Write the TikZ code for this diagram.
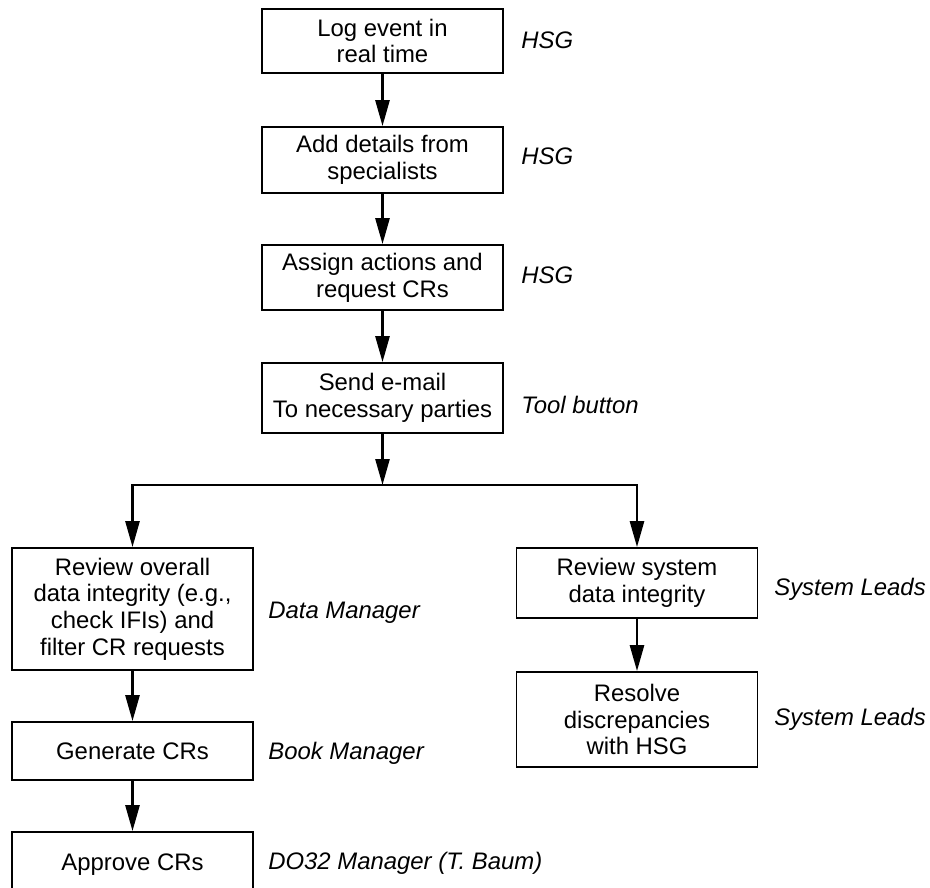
\documentclass[tikz,border=0pt]{standalone}
\usepackage{fontspec}
\setmainfont{Liberation Sans}
\usetikzlibrary{arrows.meta,positioning}
\tikzset{
stepbox/.style={rectangle, draw=black, fill=white, line width=1pt, minimum width=4.82cm, align=center, inner sep=2pt, font=\fontsize{13.6}{15.2}\selectfont},
rolelabel/.style={anchor=west, inner sep=0pt, text height=0.72em, text depth=0pt, font=\fontsize{13.6}{15.2}\selectfont\itshape},
arrow/.style={-{Triangle[length=0.52cm, width=0.28cm]}, line width=1.5pt}
}
\begin{document}
\begin{tikzpicture}[x=0.02cm, y=-0.02cm]
\useasboundingbox (0,0) rectangle (930,888);
% main column
\node[stepbox, minimum height=1.28cm] (log) at (382.5,41) {Log event in\\real time};
\node[stepbox, minimum height=1.32cm] (details) at (382.5,160) {Add details from\\specialists};
\node[stepbox, minimum height=1.30cm] (assign) at (382.5,277.5) {Assign actions and\\request CRs};
\node[stepbox, minimum height=1.40cm] (email) at (382.5,398) {Send e-mail\\To necessary parties};
% left branch
\node[stepbox, minimum height=2.44cm] (review) at (132.5,609) {Review overall\\data integrity (e.g.,\\check IFIs) and\\filter CR requests};
\node[stepbox, minimum height=1.16cm] (generate) at (132.5,751) {Generate CRs};
\node[stepbox, minimum height=1.32cm] (approve) at (132.5,865) {Approve CRs};
% right branch
\node[stepbox, minimum height=1.40cm] (sysreview) at (637,583) {Review system\\data integrity};
\node[stepbox, minimum height=1.90cm] (resolve) at (637,719.5) {Resolve\\discrepancies\\with HSG};
% who does it
\node[rolelabel] (hsgA) at (521,42) {HSG};
\node[rolelabel] (hsgB) at (521,158) {HSG};
\node[rolelabel] (hsgC) at (521,277) {HSG};
\node[rolelabel] (tool) at (521,407) {Tool button};
\node[rolelabel] (datamgr) at (268,612) {Data Manager};
\node[rolelabel] (bookmgr) at (268,753) {Book Manager};
\node[rolelabel] (domgr) at (268,863) {DO32 Manager (T. Baum)};
\node[rolelabel] (leadsA) at (774,589) {System Leads};
\node[rolelabel] (leadsB) at (774,719) {System Leads};
% connectors
\coordinate (split) at (382.5,485);
\draw[arrow] (log) -- (details);
\draw[arrow] (details) -- (assign);
\draw[arrow] (assign) -- (email);
\draw[arrow] (email) -- (split);
\draw[arrow] (split) -| (review);
\draw[arrow] (split) -| (sysreview);
\draw[arrow] (review) -- (generate);
\draw[arrow] (generate) -- (approve);
\draw[arrow] (sysreview) -- (resolve);
\end{tikzpicture}
\end{document}
